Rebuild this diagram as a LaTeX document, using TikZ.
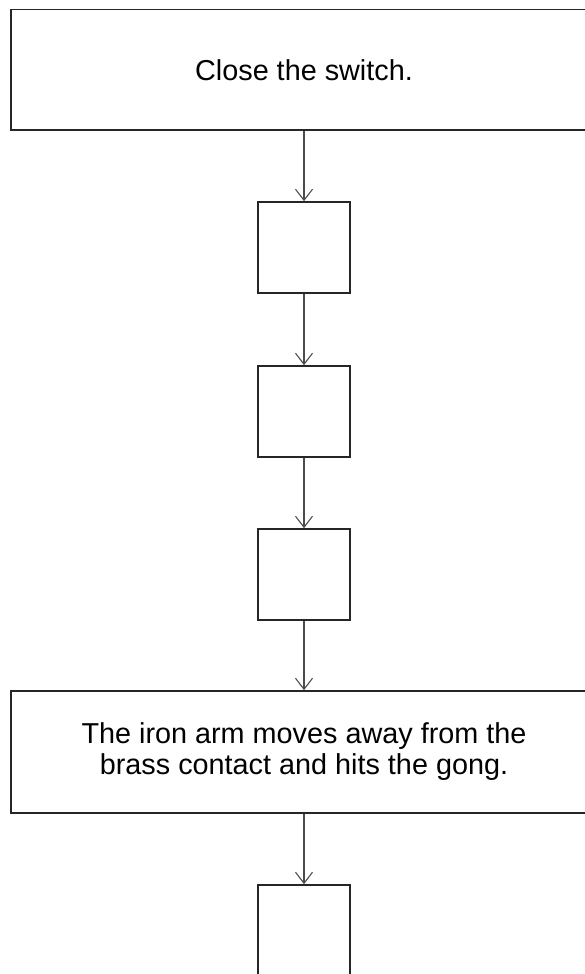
\documentclass[tikz,border=0pt]{standalone}
\usepackage{fontspec}
\setmainfont{Liberation Sans}
\usetikzlibrary{arrows.meta}
\begin{document}
\begin{tikzpicture}[x=1pt,y=-1pt,
  wide/.style={draw=black!85,line width=1.7pt,rectangle,minimum width=586pt,inner sep=0pt,align=center,
    font=\fontsize{28.8}{31}\selectfont},
  small/.style={draw=black!85,line width=1.7pt,rectangle,minimum width=92pt,minimum height=91pt,inner sep=0pt},
  flow/.style={draw=black!70,line width=1.1pt,-{Straight Barb[length=11pt,width=17pt,line width=1.1pt]}}]
\path[use as bounding box] (0,0) rectangle (585,974);
\clip (0,0) rectangle (585,974);
\node[wide,minimum height=120.5pt] (n1) at (304,69.75) {Close the switch.};
\node[small] (n2) at (304,247.5) {};
\node[small] (n3) at (304,411.5) {};
\node[small] (n4) at (304,574.5) {};
\node[wide,minimum height=122pt] (n5) at (304,752) {The iron arm moves away from the\\brass contact and hits the gong.};
\node[small] (n6) at (304,930.5) {};
\draw[flow] (n1) -- (n2);
\draw[flow] (n2) -- (n3);
\draw[flow] (n3) -- (n4);
\draw[flow] (n4) -- (n5);
\draw[flow] (n5) -- (n6);
\end{tikzpicture}
\end{document}
